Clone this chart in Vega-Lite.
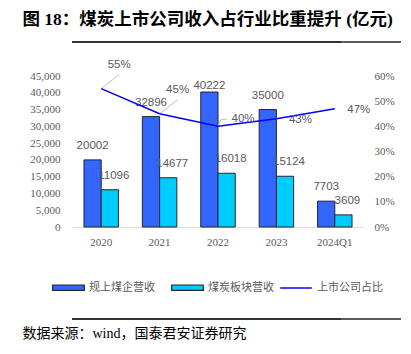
{
  "$schema": "https://vega.github.io/schema/vega-lite/v6.json",
  "padding": {"left": 12, "top": 10, "right": 0, "bottom": 0},
  "background": "white",
  "spacing": 16,
  "config": {
    "view": {"stroke": null},
    "font": "Liberation Sans"
  },
  "resolve": {"scale": {"x": "independent", "y": "independent", "fill": "independent", "stroke": "independent"}, "legend": {"fill": "independent", "stroke": "independent"}},
  "datasets": {
    "bars": [
      {"year": "2020", "series": "规上煤企营收", "value": 20002},
      {"year": "2021", "series": "规上煤企营收", "value": 32896},
      {"year": "2022", "series": "规上煤企营收", "value": 40222},
      {"year": "2023", "series": "规上煤企营收", "value": 35000},
      {"year": "2024Q1", "series": "规上煤企营收", "value": 7703},
      {"year": "2020", "series": "煤炭板块营收", "value": 11096},
      {"year": "2021", "series": "煤炭板块营收", "value": 14677},
      {"year": "2022", "series": "煤炭板块营收", "value": 16018},
      {"year": "2023", "series": "煤炭板块营收", "value": 15124},
      {"year": "2024Q1", "series": "煤炭板块营收", "value": 3609}
    ],
    "share": [
      {"year": "2020", "series": "上市公司占比", "pct": 0.55},
      {"year": "2021", "series": "上市公司占比", "pct": 0.45},
      {"year": "2022", "series": "上市公司占比", "pct": 0.40},
      {"year": "2023", "series": "上市公司占比", "pct": 0.43},
      {"year": "2024Q1", "series": "上市公司占比", "pct": 0.47}
    ],
    "edge": [{"a": 0, "b": 1}]
  },
  "vconcat": [
    {
      "width": 329,
      "height": 1,
      "data": {"name": "edge"},
      "layer": [
        {
          "mark": {"type": "point", "size": 0, "opacity": 0},
          "encoding": {
            "x": {
              "field": "a", "type": "quantitative",
              "scale": {"domain": [0, 1], "nice": false},
              "axis": {
                "orient": "top", "labels": false, "ticks": false, "grid": false, "domain": false,
                "title": "图 18：煤炭上市公司收入占行业比重提升 (亿元)",
                "titleFont": "Liberation Serif, Noto Sans CJK SC",
                "titleFontSize": 17.5, "titleFontWeight": "bold", "titleColor": "#000000",
                "titleAnchor": "start", "titleAlign": "left", "titleX": -50,
                "titlePadding": 4
              }
            }
          }
        },
        {
          "mark": {"type": "rule", "xOffset": -60, "yOffset": 10, "strokeWidth": 1.5, "color": "#262626"},
          "encoding": {
            "y": {"field": "b", "type": "quantitative", "scale": {"domain": [0, 1]}, "axis": null}
          }
        },
        {
          "mark": {"type": "rule", "yOffset": 10, "strokeWidth": 1.5, "color": "#262626"},
          "encoding": {
            "y": {"field": "b", "type": "quantitative", "scale": {"domain": [0, 1]}, "axis": null}
          }
        }
      ]
    },
    {
      "width": 292,
      "height": 151,
      "encoding": {
        "x": {
          "field": "year", "type": "nominal", "sort": null,
          "scale": {"paddingInner": 0.41, "paddingOuter": 0.205},
          "axis": {
            "title": null, "labelAngle": 0, "ticks": false, "labelPadding": 9,
            "labelFont": "Liberation Serif", "labelFontSize": 11, "labelColor": "#595959",
            "domainColor": "#d9d9d9", "domainWidth": 1, "grid": false
          }
        }
      },
      "layer": [
        {
          "data": {"name": "bars"},
          "encoding": {
            "xOffset": {"field": "series", "type": "nominal", "scale": {"domain": ["规上煤企营收", "煤炭板块营收"], "paddingInner": 0, "paddingOuter": 0}},
            "y": {
              "field": "value", "type": "quantitative",
              "scale": {"domain": [0, 45000], "nice": false},
              "axis": {
                "title": null, "values": [0, 5000, 10000, 15000, 20000, 25000, 30000, 35000, 40000, 45000],
                "labelExpr": "format(datum.value, ',')", "ticks": false, "domain": false, "grid": false,
                "labelFont": "Liberation Serif", "labelFontSize": 11, "labelColor": "#595959",
                "labelPadding": 12, "minExtent": 60
              }
            }
          },
          "layer": [
            {
              "mark": {"type": "bar", "stroke": "#262626", "strokeWidth": 1},
              "encoding": {
                "fill": {
                  "field": "series", "type": "nominal",
                  "scale": {"domain": ["规上煤企营收", "煤炭板块营收"], "range": ["#3366FF", "#00CCFF"]},
                  "legend": {
                    "title": null, "orient": "none", "direction": "horizontal",
                    "legendX": -20, "legendY": 195,
                    "labelFont": "Noto Sans CJK SC", "labelFontSize": 11, "labelColor": "#595959",
                    "labelOffset": 4, "columnPadding": 14, "symbolSize": 1000,
                    "symbolType": "M-1,-0.17H1V0.17H-1Z",
                    "symbolStrokeColor": "#262626", "symbolStrokeWidth": 1.2, "symbolOpacity": 1
                  }
                }
              }
            },
            {
              "transform": [{"filter": "datum.series === '规上煤企营收' && datum.year !== '2022'"}],
              "mark": {"type": "text", "baseline": "middle", "dy": -14, "font": "Liberation Sans", "fontSize": 11.5, "color": "#595959"},
              "encoding": {"text": {"field": "value", "type": "quantitative", "format": "d"}}
            },
            {
              "transform": [{"filter": "datum.series === '规上煤企营收' && datum.year === '2022'"}],
              "mark": {"type": "text", "baseline": "middle", "dy": -6, "font": "Liberation Sans", "fontSize": 11.5, "color": "#595959"},
              "encoding": {"text": {"field": "value", "type": "quantitative", "format": "d"}}
            },
            {
              "transform": [{"filter": "datum.series === '煤炭板块营收'"}],
              "mark": {"type": "text", "baseline": "middle", "dy": -14, "dx": 4, "font": "Liberation Sans", "fontSize": 11.5, "color": "#595959"},
              "encoding": {"text": {"field": "value", "type": "quantitative", "format": "d"}}
            }
          ]
        },
        {
          "data": {"name": "share"},
          "encoding": {
            "y": {
              "field": "pct", "type": "quantitative",
              "scale": {"domain": [0, 0.6], "nice": false},
              "axis": {
                "orient": "right", "title": null, "values": [0, 0.1, 0.2, 0.3, 0.4, 0.5, 0.6],
                "labelExpr": "format(datum.value, '.0%')", "ticks": false, "domain": false, "grid": false,
                "labelFont": "Liberation Serif", "labelFontSize": 11, "labelColor": "#595959",
                "labelPadding": 10
              }
            }
          },
          "layer": [
            {
              "transform": [{"filter": "datum.year === '2020' || datum.year === '2021'"}],
              "mark": {"type": "rule", "color": "#bfbfbf", "strokeWidth": 1, "x2Offset": 18, "y2Offset": -14},
              "encoding": {"y2": {"field": "pct"}, "x2": {"field": "year"}}
            },
            {
              "transform": [{"filter": "datum.year === '2022'"}],
              "mark": {"type": "rule", "color": "#bfbfbf", "strokeWidth": 1, "x2Offset": 3, "y2Offset": -7},
              "encoding": {"y2": {"field": "pct"}, "x2": {"field": "year"}}
            },
            {
              "transform": [{"filter": "datum.year === '2022'"}],
              "mark": {"type": "rule", "color": "#bfbfbf", "strokeWidth": 1, "xOffset": 3, "x2Offset": 9, "yOffset": -7, "y2Offset": -7},
              "encoding": {"y2": {"field": "pct"}, "x2": {"field": "year"}}
            },
            {
              "mark": {"type": "line", "strokeWidth": 1.5},
              "encoding": {
                "stroke": {
                  "field": "series", "type": "nominal",
                  "scale": {"domain": ["上市公司占比"], "range": ["#0000FF"]},
                  "legend": {
                    "title": null, "orient": "none", "direction": "horizontal",
                    "legendX": 207, "legendY": 195,
                    "labelFont": "Noto Sans CJK SC", "labelFontSize": 11, "labelColor": "#595959",
                    "labelOffset": 4, "symbolSize": 1000, "symbolType": "stroke",
                    "symbolStrokeWidth": 1.5
                  }
                }
              }
            },
            {
              "transform": [{"filter": "datum.year === '2020' || datum.year === '2021'"}],
              "mark": {"type": "text", "baseline": "middle", "dx": 18, "dy": -23.5, "font": "Liberation Sans", "fontSize": 11.5, "color": "#595959"},
              "encoding": {"text": {"field": "pct", "type": "quantitative", "format": ".0%"}}
            },
            {
              "transform": [{"filter": "datum.year === '2022'"}],
              "mark": {"type": "text", "baseline": "middle", "dx": 25, "dy": -7, "font": "Liberation Sans", "fontSize": 11.5, "color": "#595959"},
              "encoding": {"text": {"field": "pct", "type": "quantitative", "format": ".0%"}}
            },
            {
              "transform": [{"filter": "datum.year === '2023' || datum.year === '2024Q1'"}],
              "mark": {"type": "text", "baseline": "middle", "dx": 24, "dy": 1, "font": "Liberation Sans", "fontSize": 11.5, "color": "#595959"},
              "encoding": {"text": {"field": "pct", "type": "quantitative", "format": ".0%"}}
            }
          ]
        }
      ],
      "resolve": {"scale": {"y": "independent"}}
    },
    {
      "width": 329,
      "height": 1,
      "data": {"name": "edge"},
      "layer": [
        {
          "mark": {"type": "point", "size": 0, "opacity": 0},
          "encoding": {
            "x": {
              "field": "a", "type": "quantitative",
              "scale": {"domain": [0, 1], "nice": false},
              "axis": {
                "orient": "bottom", "labels": false, "ticks": false, "grid": false, "domain": false,
                "title": "数据来源：wind，国泰君安证券研究",
                "titleFont": "Liberation Serif, Noto Sans CJK SC",
                "titleFontSize": 14, "titleFontWeight": "normal", "titleColor": "#000000",
                "titleAnchor": "start", "titleAlign": "left", "titleX": -50,
                "titlePadding": 16
              }
            }
          }
        },
        {
          "mark": {"type": "rule", "xOffset": -60, "yOffset": 10, "strokeWidth": 1.5, "color": "#262626"},
          "encoding": {
            "y": {"field": "b", "type": "quantitative", "scale": {"domain": [0, 1]}, "axis": null}
          }
        },
        {
          "mark": {"type": "rule", "yOffset": 10, "strokeWidth": 1.5, "color": "#262626"},
          "encoding": {
            "y": {"field": "b", "type": "quantitative", "scale": {"domain": [0, 1]}, "axis": null}
          }
        }
      ]
    }
  ]
}
